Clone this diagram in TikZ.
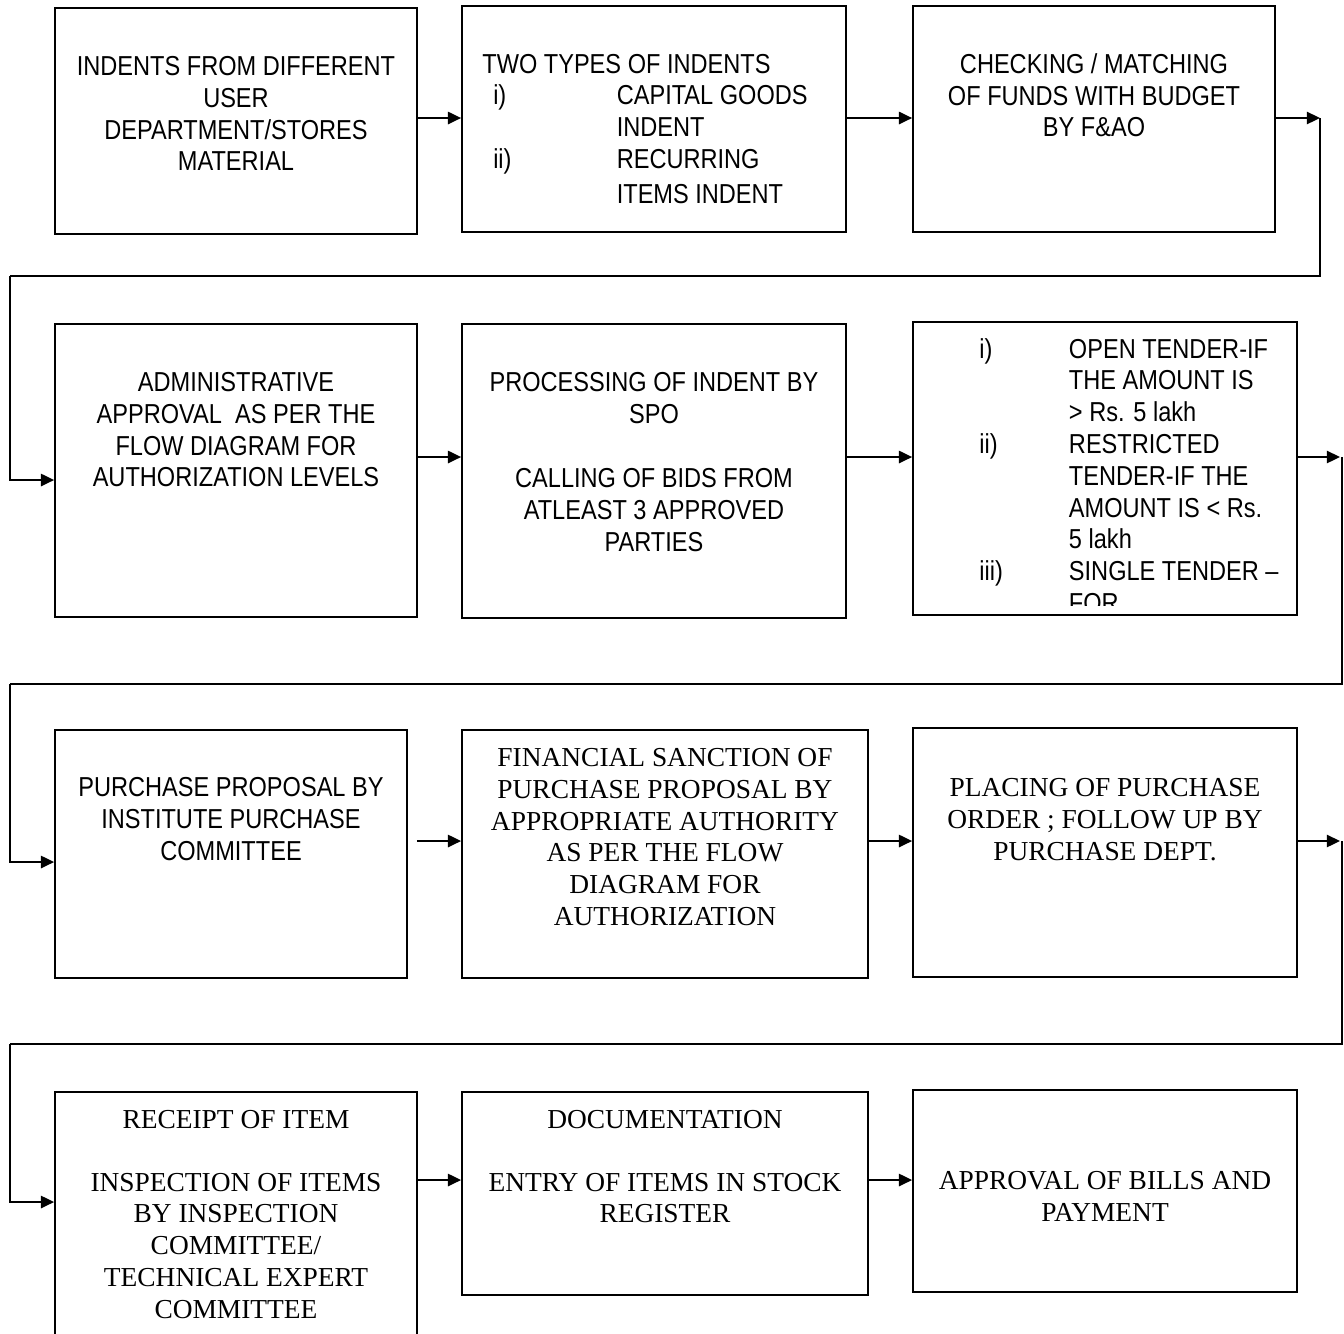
\documentclass[tikz,border=0pt]{standalone}
\usepackage{fontspec}
\usepackage{tikz}
\usetikzlibrary{arrows.meta,positioning,calc}
\newfontfamily\tahomafont[FakeStretch=0.86]{Liberation Sans}
\newfontfamily\timesfont{Liberation Serif}
\tikzset{
  stage/.style={rectangle,draw=black,fill=white,line width=1pt,minimum width=#1},
  stage/.default=7.24cm,
  sanstxt/.style={anchor=north,inner sep=0pt,align=center,
    font=\tahomafont\fontsize{15.6pt}{18.1pt}\selectfont},
  seriftxt/.style={anchor=north,inner sep=0pt,align=center,
    font=\timesfont\fontsize{15.6pt}{18.1pt}\selectfont},
  listtxt/.style={anchor=north west,inner sep=0pt,
    font=\tahomafont\fontsize{15.6pt}{18.1pt}\selectfont},
  arr/.style={-{Triangle[length=7.5pt,width=7pt]},line width=1pt,color=black},
  ret/.style={line width=1pt,color=black}
}

\begin{document}
\begin{tikzpicture}
    \useasboundingbox (0,0) rectangle (26.88,-26.66);

    % Row 1
    \node[stage,minimum height=4.52cm] (indents) at (4.72,-2.42) {};
    \node[stage=7.68cm,minimum height=4.52cm] (types) at (13.08,-2.38) {};
    \node[stage,minimum height=4.52cm] (funds) at (21.88,-2.38) {};
    \node[sanstxt] (indents-t) at (4.72,-1.12) {INDENTS FROM DIFFERENT\\USER\\DEPARTMENT/STORES\\MATERIAL};
    \node[listtxt] (types-t) at (9.64,-1.01) {\begin{tabular}{@{\hspace{6.2pt}}p{70.3pt}@{}l@{}}
      \multicolumn{2}{@{}l@{}}{TWO TYPES OF INDENTS}\\
      i)&CAPITAL GOODS\\
      &INDENT\\
      ii)&RECURRING\\[2pt]
      &ITEMS INDENT
    \end{tabular}};
    \node[sanstxt] (funds-t) at (21.88,-1.06) {CHECKING / MATCHING\\OF FUNDS WITH BUDGET\\BY F\&AO};

    % Row 2
    \node[stage,minimum height=5.86cm] (admin) at (4.72,-9.41) {};
    \node[stage=7.68cm,minimum height=5.88cm] (spo) at (13.08,-9.42) {};
    \node[stage=7.68cm,minimum height=5.86cm] (tender) at (22.10,-9.37) {};
    \node[sanstxt] (admin-t) at (4.72,-7.44) {ADMINISTRATIVE\\APPROVAL\ \ AS PER THE\\FLOW DIAGRAM FOR\\AUTHORIZATION LEVELS};
    \node[sanstxt] (spo-t) at (13.08,-7.44) {PROCESSING OF INDENT BY\\SPO\\[18.7pt]CALLING OF BIDS FROM\\ATLEAST 3 APPROVED\\PARTIES};
    \begin{scope}
      \clip (tender.north west) rectangle ([yshift=0.2cm]tender.south east);
      \node[listtxt] (tender-t) at (19.58,-6.71) {\begin{tabular}{@{}p{51pt}@{}l@{}}
        i)&OPEN TENDER-IF\\
        &THE AMOUNT IS\\
        &> Rs. 5 lakh\\
        ii)&RESTRICTED\\
        &TENDER-IF THE\\
        &AMOUNT IS < Rs.\\
        &5 lakh\\
        iii)&SINGLE TENDER –\\
        &FOR
      \end{tabular}};
    \end{scope}

    % Row 3
    \node[stage=7.04cm,minimum height=4.96cm] (ipc) at (4.62,-17.08) {};
    \node[stage=8.12cm,minimum height=4.96cm] (sanction) at (13.30,-17.08) {};
    \node[stage=7.68cm,minimum height=4.98cm] (order) at (22.10,-17.05) {};
    \node[sanstxt] (ipc-t) at (4.62,-15.54) {PURCHASE PROPOSAL BY\\INSTITUTE PURCHASE\\COMMITTEE};
    \node[seriftxt] (sanction-t) at (13.30,-14.96) {FINANCIAL SANCTION OF\\PURCHASE PROPOSAL BY\\APPROPRIATE AUTHORITY\\AS PER THE FLOW\\DIAGRAM FOR\\AUTHORIZATION};
    \node[seriftxt] (order-t) at (22.10,-15.56) {PLACING OF PURCHASE\\ORDER ; FOLLOW UP BY\\PURCHASE DEPT.};

    % Row 4
    \node[stage,minimum height=5.16cm] (receipt) at (4.72,-24.42) {};
    \node[stage=8.12cm,minimum height=4.06cm] (docu) at (13.30,-23.87) {};
    \node[stage=7.68cm,minimum height=4.04cm] (bills) at (22.10,-23.82) {};
    \node[seriftxt] (receipt-t) at (4.72,-22.20) {RECEIPT OF ITEM\\[17.5pt]INSPECTION OF ITEMS\\BY INSPECTION\\COMMITTEE/\\TECHNICAL EXPERT\\COMMITTEE};
    \node[seriftxt] (docu-t) at (13.30,-22.20) {DOCUMENTATION\\[17.5pt]ENTRY OF ITEMS IN STOCK\\REGISTER};
    \node[seriftxt] (bills-t) at (22.10,-23.42) {APPROVAL OF BILLS AND\\PAYMENT};

    % Row heights of the arrows
    \coordinate (r1) at (0,-2.36);
    \coordinate (r2) at (0,-9.14);
    \coordinate (r3) at (0,-16.82);
    \coordinate (r4) at (0,-23.60);

    % Return corners
    \coordinate (c1) at (26.40,-2.36);
    \coordinate (c1b) at (0.20,-5.52);
    \coordinate (c2) at (26.84,-9.14);
    \coordinate (c2b) at (0.20,-13.68);
    \coordinate (c3) at (26.84,-16.82);
    \coordinate (c3b) at (0.20,-20.88);

    % Arrows
    \draw[arr] (indents.east |- r1) -- (types.west |- r1);
    \draw[arr] (types.east |- r1) -- (funds.west |- r1);
    \draw[arr] (funds.east |- r1) -- (c1);
    \draw[ret] (c1) |- (c1b);
    \draw[arr] (c1b) |- ($(admin.west)+(0,-0.19)$);

    \draw[arr] (admin.east |- r2) -- (spo.west |- r2);
    \draw[arr] (spo.east |- r2) -- (tender.west |- r2);
    \draw[arr] (tender.east |- r2) -- ([xshift=-0.04cm]c2);
    \draw[ret] (c2) |- (c2b);
    \draw[arr] (c2b) |- ($(ipc.west)+(0,-0.16)$);

    \draw[arr] ([xshift=0.18cm]ipc.east |- r3) -- (sanction.west |- r3);
    \draw[arr] (sanction.east |- r3) -- (order.west |- r3);
    \draw[arr] (order.east |- r3) -- ([xshift=-0.04cm]c3);
    \draw[ret] (c3) |- (c3b);
    \draw[arr] (c3b) |- (receipt.west |- 0,-24.04);

    \draw[arr] (receipt.east |- r4) -- (docu.west |- r4);
    \draw[arr] (docu.east |- r4) -- (bills.west |- r4);
  \end{tikzpicture}
\end{document}
